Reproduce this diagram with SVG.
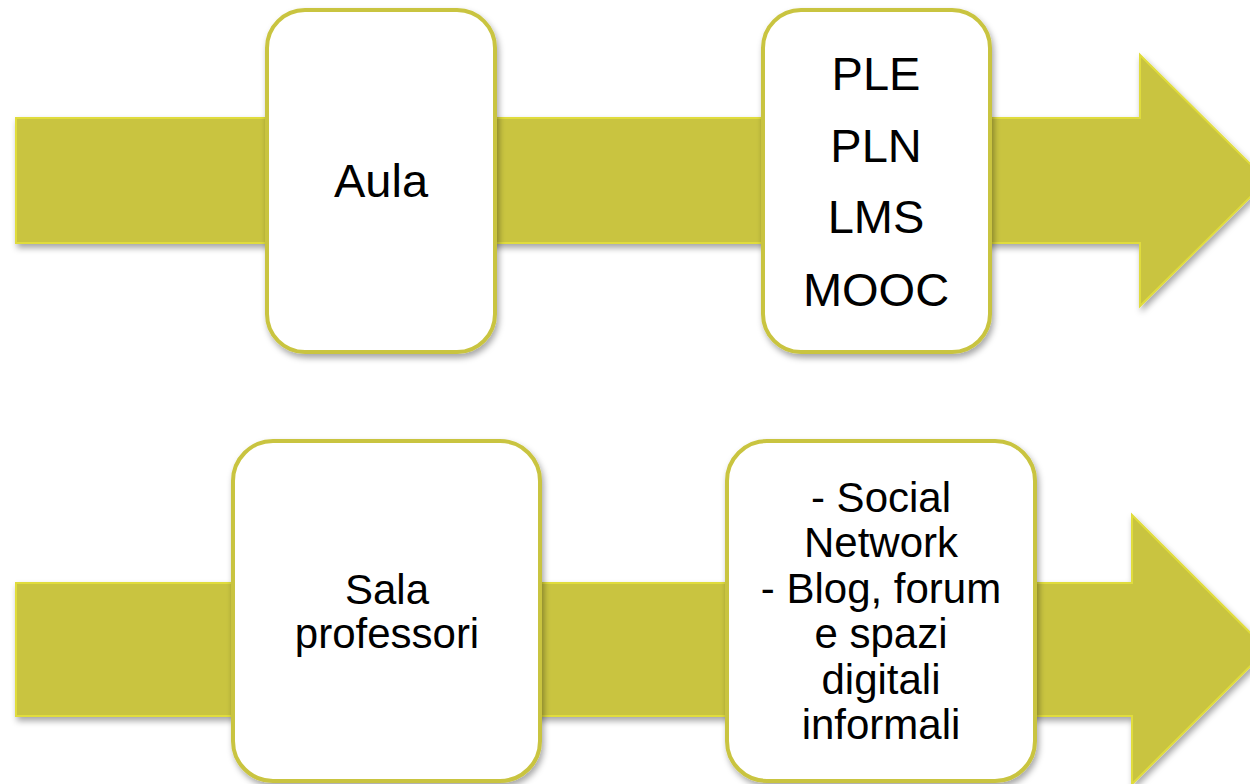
<svg xmlns="http://www.w3.org/2000/svg" width="1250" height="784" viewBox="0 0 1250 784">
  <defs>
    <filter id="sh" x="-10%" y="-10%" width="120%" height="125%">
      <feDropShadow dx="2" dy="4" stdDeviation="3" flood-color="#000" flood-opacity="0.35"/>
    </filter>
    <style>
      .arrow { fill: #c9c43f; stroke: #e0dc3c; stroke-width: 2; filter: url(#sh); }
      .box { fill: #ffffff; stroke: #c9c43f; stroke-width: 4; filter: url(#sh); }
      .t1 { font-family: "Liberation Sans", Arial, sans-serif; font-size: 47px; fill: #000; text-anchor: middle; }
      .t2 { font-family: "Liberation Sans", Arial, sans-serif; font-size: 42px; fill: #000; text-anchor: middle; }
    </style>
  </defs>

  <g id="connectors">
    <polygon id="arrow-top" class="arrow" points="16,118 1140,118 1140,55 1267,180.5 1140,306 1140,243 16,243"/>
    <polygon id="arrow-bottom" class="arrow" points="16,583 1132,583 1132,515 1267,649.5 1132,784 1132,716 16,716"/>
  </g>

  <g id="node-aula">
    <rect class="box" x="267" y="10" width="228" height="342" rx="38" ry="38"/>
    <text class="t1" x="381" y="197">Aula</text>
  </g>

  <g id="node-ple">
    <rect class="box" x="763" y="10" width="227" height="342" rx="38" ry="38"/>
    <text class="t1" x="876" y="90">PLE</text>
    <text class="t1" x="876" y="162">PLN</text>
    <text class="t1" x="876" y="233">LMS</text>
    <text class="t1" x="876" y="306">MOOC</text>
  </g>

  <g id="node-sala">
    <rect class="box" x="233" y="441" width="307" height="340" rx="40" ry="40"/>
    <text class="t2" x="387" y="604">Sala</text>
    <text class="t2" x="387" y="648">professori</text>
  </g>

  <g id="node-social">
    <rect class="box" x="727" y="441" width="308" height="340" rx="40" ry="40"/>
    <text class="t2" x="881" y="512">- Social</text>
    <text class="t2" x="881" y="557">Network</text>
    <text class="t2" x="881" y="603">- Blog, forum</text>
    <text class="t2" x="881" y="648">e spazi</text>
    <text class="t2" x="881" y="694">digitali</text>
    <text class="t2" x="881" y="739">informali</text>
  </g>
</svg>
